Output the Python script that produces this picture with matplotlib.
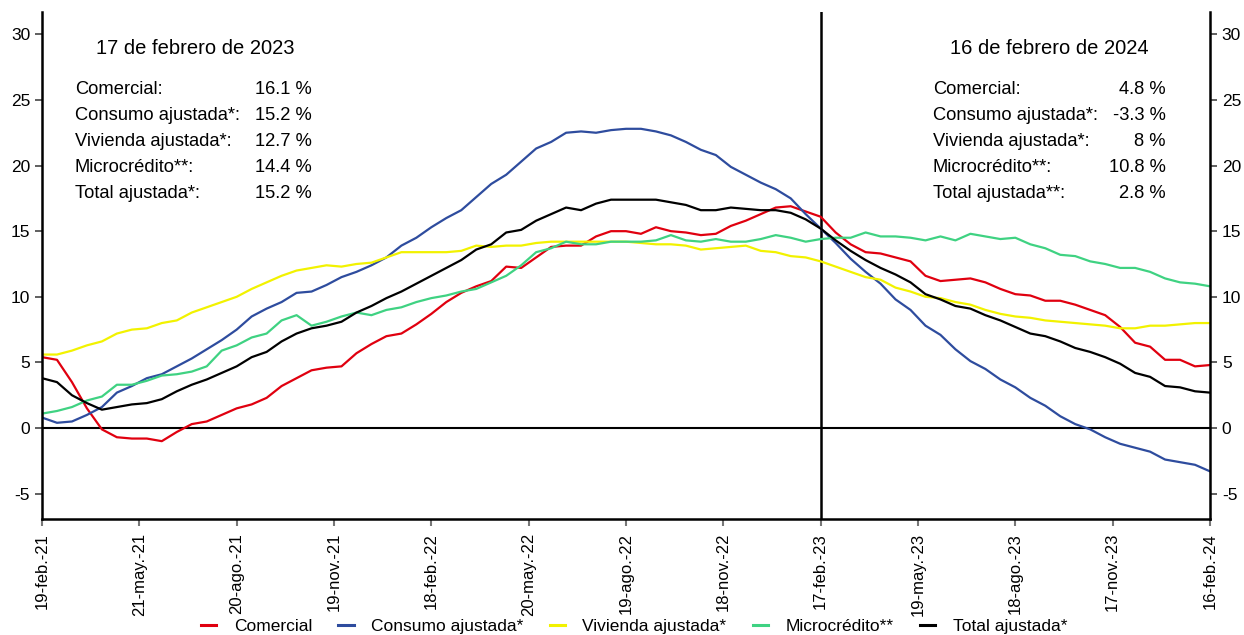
import matplotlib.pyplot as plt
import numpy as np
import pandas as pd

plt.rcParams['font.family'] = ['Liberation Sans', 'DejaVu Sans']
plt.rcParams['axes.unicode_minus'] = False

# datos quincenales (cada 2 semanas)
fechas = pd.date_range('2021-02-19', '2024-02-16', freq='14D')

comercial = [5.4, 5.2, 3.5, 1.5, -0.1, -0.7, -0.8, -0.8, -1.0, -0.3,
             0.3, 0.5, 1.0, 1.5, 1.8, 2.3, 3.2, 3.8, 4.4, 4.6,
             4.7, 5.7, 6.4, 7.0, 7.2, 7.9, 8.7, 9.6, 10.3, 10.8,
             11.2, 12.3, 12.2, 13.0, 13.8, 13.9, 13.9, 14.6, 15.0, 15.0,
             14.8, 15.3, 15.0, 14.9, 14.7, 14.8, 15.4, 15.8, 16.3, 16.8,
             16.9, 16.5, 16.1, 14.9, 14.0, 13.4, 13.3, 13.0, 12.7, 11.6,
             11.2, 11.3, 11.4, 11.1, 10.6, 10.2, 10.1, 9.7, 9.7, 9.4,
             9.0, 8.6, 7.7, 6.5, 6.2, 5.2, 5.2, 4.7, 4.8]

consumo = [0.8, 0.4, 0.5, 1.0, 1.6, 2.7, 3.2, 3.8, 4.1, 4.7,
           5.3, 6.0, 6.7, 7.5, 8.5, 9.1, 9.6, 10.3, 10.4, 10.9,
           11.5, 11.9, 12.4, 13.0, 13.9, 14.5, 15.3, 16.0, 16.6, 17.6,
           18.6, 19.3, 20.3, 21.3, 21.8, 22.5, 22.6, 22.5, 22.7, 22.8,
           22.8, 22.6, 22.3, 21.8, 21.2, 20.8, 19.9, 19.3, 18.7, 18.2,
           17.5, 16.3, 15.2, 14.1, 12.9, 11.9, 11.0, 9.8, 9.0, 7.8,
           7.1, 6.0, 5.1, 4.5, 3.7, 3.1, 2.3, 1.7, 0.9, 0.3,
           -0.1, -0.7, -1.2, -1.5, -1.8, -2.4, -2.6, -2.8, -3.3]

vivienda = [5.6, 5.6, 5.9, 6.3, 6.6, 7.2, 7.5, 7.6, 8.0, 8.2,
            8.8, 9.2, 9.6, 10.0, 10.6, 11.1, 11.6, 12.0, 12.2, 12.4,
            12.3, 12.5, 12.6, 13.0, 13.4, 13.4, 13.4, 13.4, 13.5, 13.9,
            13.8, 13.9, 13.9, 14.1, 14.2, 14.2, 14.2, 14.2, 14.2, 14.2,
            14.1, 14.0, 14.0, 13.9, 13.6, 13.7, 13.8, 13.9, 13.5, 13.4,
            13.1, 13.0, 12.7, 12.3, 11.9, 11.5, 11.3, 10.7, 10.4, 10.0,
            9.9, 9.6, 9.4, 9.0, 8.7, 8.5, 8.4, 8.2, 8.1, 8.0,
            7.9, 7.8, 7.6, 7.6, 7.8, 7.8, 7.9, 8.0, 8.0]

microcredito = [1.1, 1.3, 1.6, 2.1, 2.4, 3.3, 3.3, 3.6, 4.0, 4.1,
                4.3, 4.7, 5.9, 6.3, 6.9, 7.2, 8.2, 8.6, 7.8, 8.1,
                8.5, 8.8, 8.6, 9.0, 9.2, 9.6, 9.9, 10.1, 10.4, 10.6,
                11.1, 11.6, 12.4, 13.4, 13.7, 14.2, 14.0, 14.0, 14.2, 14.2,
                14.2, 14.3, 14.7, 14.3, 14.2, 14.4, 14.2, 14.2, 14.4, 14.7,
                14.5, 14.2, 14.4, 14.5, 14.5, 14.9, 14.6, 14.6, 14.5, 14.3,
                14.6, 14.3, 14.8, 14.6, 14.4, 14.5, 14.0, 13.7, 13.2, 13.1,
                12.7, 12.5, 12.2, 12.2, 11.9, 11.4, 11.1, 11.0, 10.8]

total = [3.8, 3.5, 2.5, 1.9, 1.4, 1.6, 1.8, 1.9, 2.2, 2.8,
         3.3, 3.7, 4.2, 4.7, 5.4, 5.8, 6.6, 7.2, 7.6, 7.8,
         8.1, 8.8, 9.3, 9.9, 10.4, 11.0, 11.6, 12.2, 12.8, 13.6,
         14.0, 14.9, 15.1, 15.8, 16.3, 16.8, 16.6, 17.1, 17.4, 17.4,
         17.4, 17.4, 17.2, 17.0, 16.6, 16.6, 16.8, 16.7, 16.6, 16.6,
         16.4, 15.9, 15.2, 14.3, 13.5, 12.8, 12.2, 11.7, 11.1, 10.2,
         9.8, 9.3, 9.1, 8.6, 8.2, 7.7, 7.2, 7.0, 6.6, 6.1,
         5.8, 5.4, 4.9, 4.2, 3.9, 3.2, 3.1, 2.8, 2.7]

nombres = ['Comercial', 'Consumo ajustada*', 'Vivienda ajustada*', 'Microcrédito**', 'Total ajustada*']
colores = ['#E0000F', '#2E4C9E', '#F2F200', '#3FD282', '#000000']

fechas_ticks = pd.date_range('2021-02-19', '2024-02-16', freq='91D')
etiquetas_x = ['19-feb.-21', '21-may.-21', '20-ago.-21', '19-nov.-21', '18-feb.-22',
               '20-may.-22', '19-ago.-22', '18-nov.-22', '17-feb.-23', '19-may.-23',
               '18-ago.-23', '17-nov.-23', '16-feb.-24']

# cuadros de texto
titulo_izq = '17 de febrero de 2023'
titulo_der = '16 de febrero de 2024'
etq_izq = ['Comercial:', 'Consumo ajustada*:', 'Vivienda ajustada*:', 'Microcrédito**:', 'Total ajustada*:']
val_izq = ['16.1 %', '15.2 %', '12.7 %', '14.4 %', '15.2 %']
etq_der = ['Comercial:', 'Consumo ajustada*:', 'Vivienda ajustada*:', 'Microcrédito**:', 'Total ajustada**:']
val_der = ['4.8 %', '-3.3 %', '8 %', '10.8 %', '2.8 %']

fig = plt.figure(figsize=(12.44, 6.35), dpi=100)
ax = fig.add_axes([42 / 1244, 1 - 519 / 635, 1168 / 1244, 507 / 635])

for serie, nombre, color in zip([comercial, consumo, vivienda, microcredito, total], nombres, colores):
    ax.plot(fechas, serie, color=color, lw=1.6, label=nombre)

ax.axhline(0, color='black', lw=1.5, zorder=1)
ax.axvline(pd.Timestamp('2023-02-17'), color='black', lw=1.8, zorder=1)

ax.set_xlim(fechas[0], fechas[-1])
ax.set_ylim(-6.93, 31.7)
ax.set_yticks(np.arange(-5, 31, 5))
ax.set_xticks(fechas_ticks)
ax.set_xticklabels(etiquetas_x, rotation=90, fontsize=12)
ax.tick_params(axis='y', labelsize=12.5, right=True, labelright=True, length=5, width=1.2, color='#444444')
ax.tick_params(axis='x', length=5, width=1.5, color='#777777', pad=5)

ax.spines['top'].set_visible(False)
for lado in ['left', 'right', 'bottom']:
    ax.spines[lado].set_linewidth(1.8)


def px(x, y):
    # posicion en pixeles (origen arriba a la izquierda) -> fraccion de figura
    return x / 1244, 1 - y / 635


# textos de la izquierda
fig.text(*px(195, 48), titulo_izq, fontsize=14.5, ha='center', va='center')
filas_y = [89, 115, 141, 167, 193]
for y, e, v in zip(filas_y, etq_izq, val_izq):
    fig.text(*px(75, y), e, fontsize=13.2, ha='left', va='center')
    fig.text(*px(312, y), v, fontsize=13.2, ha='right', va='center')

# textos de la derecha
fig.text(*px(1049, 48), titulo_der, fontsize=14.5, ha='center', va='center')
for y, e, v in zip(filas_y, etq_der, val_der):
    fig.text(*px(933, y), e, fontsize=13.2, ha='left', va='center')
    fig.text(*px(1166, y), v, fontsize=13.2, ha='right', va='center')

leg = fig.legend(loc='center', bbox_to_anchor=px(634, 626), ncol=5, frameon=False,
                 handlelength=0.9, columnspacing=1.5, handletextpad=1.0, fontsize=12.5)
for linea in leg.get_lines():
    linea.set_linewidth(2.2)

fig.savefig('out.png', dpi=100)
